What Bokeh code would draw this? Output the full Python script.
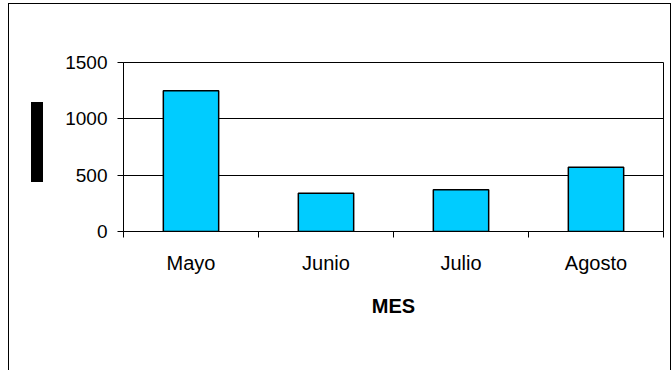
from bokeh.plotting import figure
from bokeh.models import Range1d, FixedTicker, ColumnDataSource, InlineStyleSheet
from bokeh.embed import file_html
from bokeh.resources import INLINE

meses = ["Mayo", "Junio", "Julio", "Agosto"]
valores = [1250, 340, 370, 570]
y_ticks = [0, 500, 1000, 1500]
x_title = "MES"

FONT = "Liberation Sans"

# category slots on a numeric axis: centres for labels/bars, edges for ticks
centros = [i + 0.5 for i in range(len(meses))]
bordes = list(range(len(meses) + 1))

src = ColumnDataSource(dict(x=centros, valor=valores))

p = figure(width=672, height=370,
           x_range=Range1d(0, len(meses)),
           y_range=Range1d(0, 1500),
           output_backend="svg", toolbar_location=None,
           min_border_left=123, min_border_right=9,
           min_border_top=62, min_border_bottom=139)

p.vbar(x="x", top="valor", width=0.41, source=src,
       fill_color="#00CCFF", line_color="black", line_width=1.5)

xa = p.xaxis[0]
xa.ticker = FixedTicker(ticks=centros, minor_ticks=bordes)
xa.major_label_overrides = {c: m for c, m in zip(centros, meses)}
xa.major_tick_line_color = None
xa.major_tick_out = 0
xa.major_tick_in = 0
xa.minor_tick_line_color = "black"
xa.minor_tick_out = 6
xa.minor_tick_in = 0
xa.axis_line_color = "black"
xa.major_label_standoff = 14
xa.major_label_text_font = FONT
xa.major_label_text_font_size = "20px"
xa.major_label_text_color = "black"
xa.axis_label = x_title
xa.axis_label_text_font = FONT
xa.axis_label_text_font_style = "bold"
xa.axis_label_text_font_size = "20px"
xa.axis_label_text_color = "black"
xa.axis_label_standoff = 18

ya = p.yaxis[0]
ya.ticker = FixedTicker(ticks=y_ticks)
ya.major_label_text_font = FONT
ya.major_label_text_font_size = "19px"
ya.major_label_text_color = "black"
ya.major_tick_out = 6
ya.major_tick_in = 0
ya.minor_tick_line_color = None
ya.axis_line_color = "black"
ya.major_tick_line_color = "black"
ya.major_label_standoff = 10

p.xgrid.visible = False
p.ygrid.ticker = FixedTicker(ticks=y_ticks)
p.ygrid.grid_line_color = "black"
p.ygrid.grid_line_width = 1
p.outline_line_color = "black"
p.outline_line_width = 1

# outer chart-area border and the solid block where the y-axis title sits
css = """
:host { position: relative; }
:host::before {
  content: ""; position: absolute; left: 8px; top: 3px;
  width: 663px; height: 367px; box-sizing: border-box;
  border: 1.5px solid #000; border-bottom: none;
  z-index: 5; pointer-events: none;
}
:host::after {
  content: ""; position: absolute; left: 31px; top: 102px;
  width: 12px; height: 80px; background: #000;
  z-index: 5; pointer-events: none;
}
"""
p.stylesheets = [InlineStyleSheet(css=css)]

open("out.html", "w").write(file_html(p, INLINE))
